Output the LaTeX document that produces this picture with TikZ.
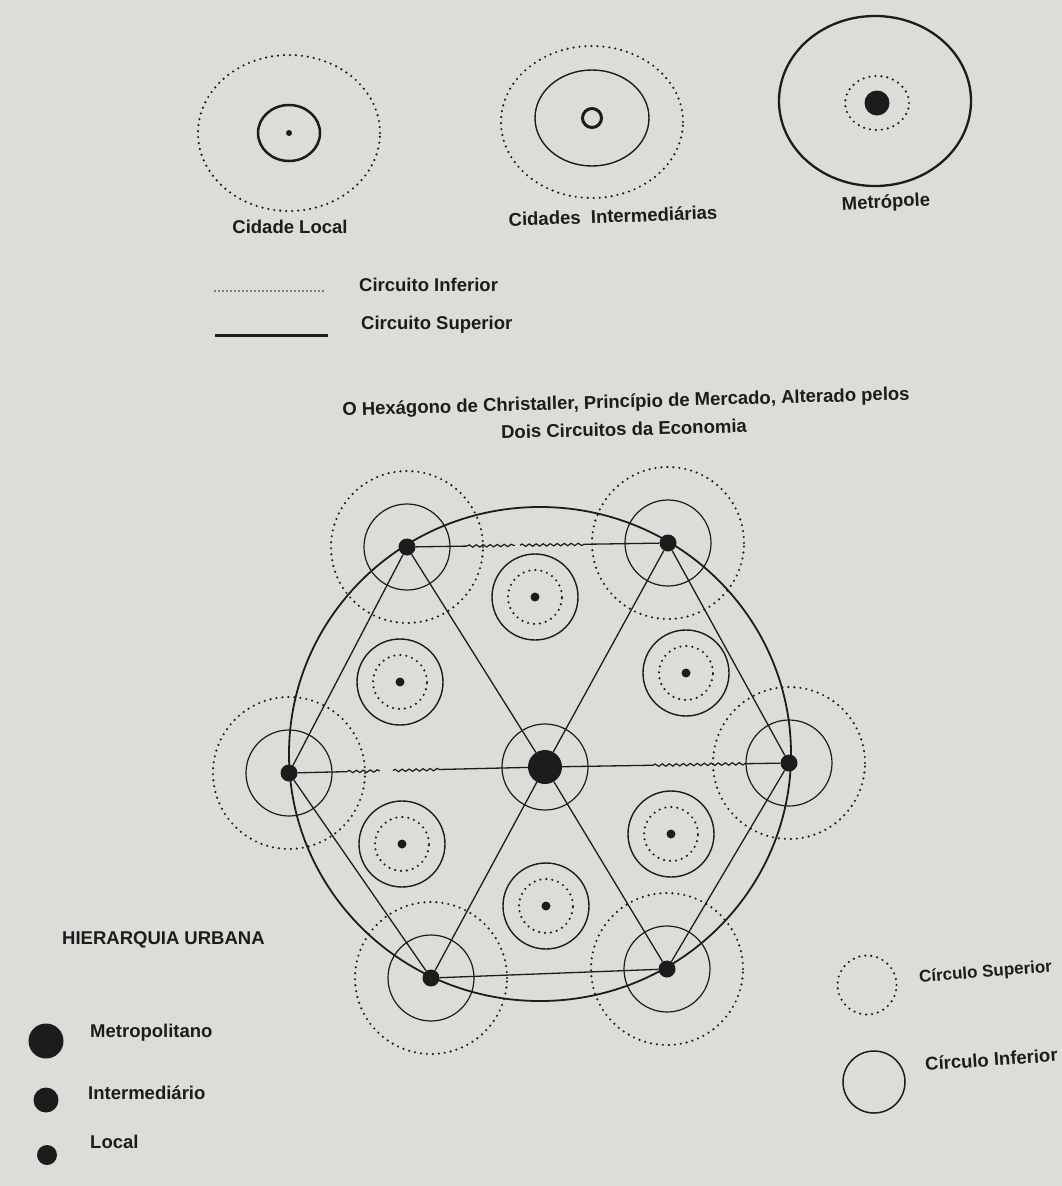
\documentclass[tikz,border=0pt]{standalone}
\usepackage{fontspec}
\setmainfont{Liberation Sans}
\usetikzlibrary{calc,decorations.pathmorphing}
\definecolor{paper}{RGB}{220,220,216}
\definecolor{ink}{RGB}{28,28,28}
\begin{document}
\begin{tikzpicture}[x=1pt,y=-1pt,
  lbl/.style={font=\fontsize{18.5}{23}\selectfont\bfseries, text=ink, inner sep=0pt},
  dotc/.style={draw=ink, line width=2.4pt, line cap=round, dash pattern=on 0pt off 6pt},
  solc/.style={draw=ink, line width=1.3pt},
  city/.style={circle, fill=ink, inner sep=0pt, minimum size=#1},
  edge/.style={draw=ink, line width=1.3pt},
  wav/.style={draw=ink, line width=1.2pt, decorate, decoration={snake, amplitude=1.2pt, segment length=7pt}},
]
\fill[paper] (0,0) rectangle (1062,1186);
\useasboundingbox (0,0) rectangle (1062,1186);

% ---------- top row ----------
% Cidade Local
\node[city=6pt] (cl) at (289,133) {};
\draw[dotc] (cl.center) ellipse [x radius=91pt, y radius=78pt];
\draw[ink, line width=2.5pt] (cl.center) ellipse [x radius=31pt, y radius=28pt];
\node[lbl] (tcl) at (290,227) {Cidade Local};

% Cidades Intermediarias
\node[circle, draw=ink, line width=3pt, minimum size=19pt, inner sep=0pt] (ci) at (592,118) {};
\draw[dotc] (592,122) ellipse [x radius=91pt, y radius=76pt];
\draw[ink, line width=1.4pt] (ci.center) ellipse [x radius=57pt, y radius=48pt];
\node[lbl, rotate=2] (tci) at (613,216) {Cidades\ \ Intermediárias};

% Metropole
\node[city=25pt] (me) at (877,103) {};
\draw[dotc] (me.center) ellipse [x radius=32pt, y radius=27pt];
\draw[ink, line width=2.3pt] (875,101) ellipse [x radius=96pt, y radius=85pt];
\node[lbl, rotate=3] (tme) at (886,203) {Metrópole};

% ---------- legend of circuits ----------
\coordinate (li1) at (215,291);
\coordinate (li2) at (326,291);
\draw[ink, line width=1.6pt, line cap=round, dash pattern=on 0pt off 4pt] (li1) -- (li2);
\node[lbl, anchor=west] (tli) at (359,285) {Circuito Inferior};
\coordinate (ls1) at (215,335);
\coordinate (ls2) at (328,335);
\draw[ink, line width=3pt] (ls1) -- (ls2);
\node[lbl, anchor=west] (tls) at (361,325) {Circuito Superior};

% ---------- title ----------
\node[lbl, rotate=1.6] (title1) at (626,403)
  {O Hexágono de Christaller, Princípio de Mercado, Alterado pelos};
\node[lbl, rotate=1.4] (title2) at (624,429) {Dois Circuitos da Economia};

% ---------- main diagram ----------
\coordinate (TLc) at (407,547);
\coordinate (TRc) at (668,543);
\coordinate (Rc) at (789,763);
\coordinate (BRc) at (667,969);
\coordinate (BLc) at (431,978);
\coordinate (Lc) at (289,773);
\coordinate (Cc) at (545,767);

% locals
\foreach \n/\x/\y in {ltop/535/597, lul/400/682, lur/686/673, lll/402/844, llr/671/834, lbot/546/906}{
  \coordinate (\n) at (\x,\y);
  \draw[dotc] (\n) circle [radius=27pt];
  \draw[ink, line width=1.4pt] (\n) circle [radius=43pt];
  \node[city=9pt] (\n d) at (\n) {};
}

% superior dotted circles of the intermediate cities
\foreach \n in {TLc,TRc,Rc,BRc,BLc,Lc}{
  \draw[dotc] (\n) circle [radius=76pt];
  \draw[ink, line width=1.2pt] (\n) circle [radius=43pt];
}
\draw[ink, line width=1.2pt] (Cc) circle [radius=43pt];

% big circle
\draw[ink, line width=1.8pt] (540,754) ellipse [x radius=251pt, y radius=247pt];

% city dots
\node[city=17pt] (TL) at (TLc) {};
\node[city=17pt] (TR) at (TRc) {};
\node[city=17pt] (R) at (Rc) {};
\node[city=17pt] (BR) at (BRc) {};
\node[city=17pt] (BL) at (BLc) {};
\node[city=17pt] (L) at (Lc) {};
\node[city=34pt] (C) at (Cc) {};

% plain edges
\draw[edge] (TR) -- (R);
\draw[edge] (R) -- (BR);
\draw[edge] (BR) -- (BL);
\draw[edge] (BL) -- (L);
\draw[edge] (L) -- (TL);
\draw[edge] (TL) -- (C);
\draw[edge] (TR) -- (C);
\draw[edge] (BL) -- (C);
\draw[edge] (BR) -- (C);

% TL - TR (partly wavy)
\coordinate (a1) at ($(TLc)!0.23!(TRc)$);
\coordinate (a2) at ($(TLc)!0.414!(TRc)$);
\coordinate (a3) at ($(TLc)!0.433!(TRc)$);
\coordinate (a4) at ($(TLc)!0.69!(TRc)$);
\draw[edge] (TL) -- (a1);
\draw[wav] (a1) -- (a2);
\draw[wav] (a3) -- (a4);
\draw[edge] (a4) -- (TR);

% L - C
\coordinate (b1) at ($(Lc)!0.227!(Cc)$);
\coordinate (b2) at ($(Lc)!0.355!(Cc)$);
\coordinate (b3) at ($(Lc)!0.406!(Cc)$);
\coordinate (b4) at ($(Lc)!0.594!(Cc)$);
\draw[edge] (L) -- (b1);
\draw[wav] (b1) -- (b2);
\draw[wav] (b3) -- (b4);
\draw[edge] (b4) -- (C);

% C - R
\coordinate (c1) at ($(Cc)!0.443!(Rc)$);
\coordinate (c2) at ($(Cc)!0.828!(Rc)$);
\draw[edge] (C) -- (c1);
\draw[wav] (c1) -- (c2);
\draw[edge] (c2) -- (R);

% ---------- legend: hierarchy ----------
\node[lbl, anchor=west] (th) at (62,940) {HIERARQUIA URBANA};
\node[city=35pt] (hm) at (46,1041) {};
\node[lbl, anchor=west] (thm) at (90,1033) {Metropolitano};
\node[city=25pt] (hi) at (46,1100) {};
\node[lbl, anchor=west] (thi) at (88,1093) {Intermediário};
\node[city=20pt] (hl) at (47,1155) {};
\node[lbl, anchor=west] (thl) at (90,1142) {Local};

% ---------- legend: circles ----------
\node[circle, dotc, minimum size=59pt, inner sep=0pt] (lsup) at (867,985) {};
\node[lbl, anchor=west, rotate=4.5, font=\fontsize{17}{20}\selectfont\bfseries] (tsup) at (919,978) {Círculo Superior};
\node[circle, draw=ink, line width=1.5pt, minimum size=62pt, inner sep=0pt] (linf) at (874,1082) {};
\node[lbl, anchor=west, rotate=4] (tinf) at (925,1064) {Círculo Inferior};
\end{tikzpicture}
\end{document}
